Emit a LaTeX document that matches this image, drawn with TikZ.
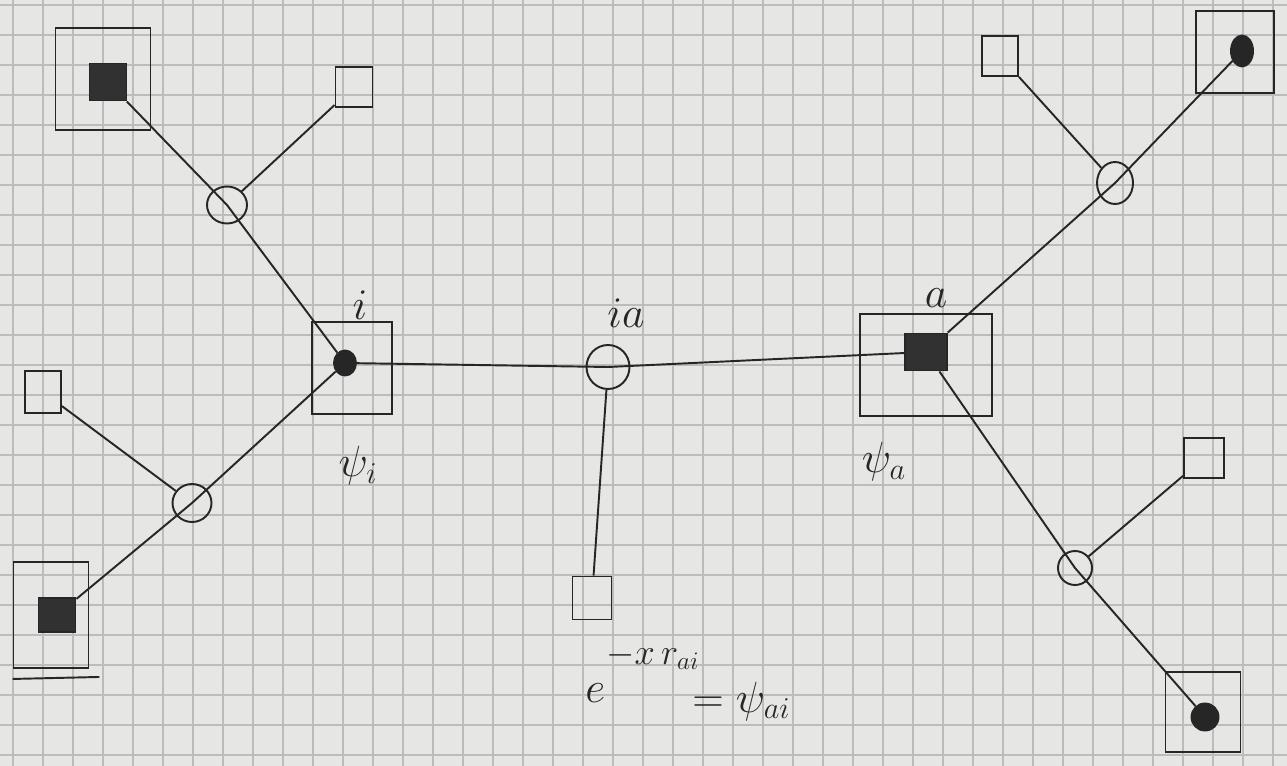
\documentclass[tikz,border=0pt]{standalone}
\usetikzlibrary{shapes.geometric}
\definecolor{paper}{HTML}{E6E6E4}
\definecolor{gridc}{HTML}{BCBCBC}
\definecolor{ink}{HTML}{262626}
\begin{document}
\begin{tikzpicture}[x=0.02cm,y=-0.02cm,
  pen/.style={draw=ink,line width=1.1pt},
  sz/.style 2 args={minimum width=#1*0.02cm,minimum height=#2*0.02cm},
  varnode/.style={pen,ellipse,inner sep=0pt},
  smallbox/.style={pen,rectangle,inner sep=0pt},
  outerbox/.style={pen,rectangle,inner sep=0pt},
  filledbox/.style={pen,rectangle,fill=ink!95,inner sep=0pt},
  dotnode/.style={ellipse,fill=ink,draw=ink,line width=1.1pt,inner sep=0pt},
  lbl/.style={text=ink,inner sep=0pt,font=\fontsize{25}{28}\selectfont},
  fml/.style={text=ink,inner sep=0pt,font=\fontsize{27}{30}\selectfont},
  fmlsup/.style={text=ink,inner sep=0pt,font=\fontsize{22}{25}\selectfont},
  gridline/.style={draw=gridc,line width=0.7pt},
  conn/.style={draw=ink,line width=1.1pt}]
\useasboundingbox (0,0) rectangle (1287,766);
\fill[paper] (0,0) rectangle (1287,766);
\foreach \gx in {13,43,...,1287} \draw[gridline] (\gx,0) -- (\gx,766);
\foreach \gy in {5,35,...,766} \draw[gridline] (0,\gy) -- (1287,\gy);

% left upper branch
\node[outerbox,sz={95}{102}] (tlout) at (103,79) {};
\node[filledbox,sz={37}{37}] (tlin) at (108,82) {};
\node[varnode,sz={40}{37}] (c1) at (227,205) {};
\node[smallbox,sz={37}{40}] (s1) at (354,87) {};

% node i
\node[outerbox,sz={80}{92}] (iout) at (352,368) {};
\node[dotnode,sz={22}{25}] (idot) at (345,363) {};
\node[lbl] (ilab) at (360,305) {$i$};
\node[lbl] (psii) at (358,466) {$\psi_i$};

% left lower branch
\node[varnode,sz={39}{38}] (c2) at (192,503) {};
\node[smallbox,sz={36}{42}] (s2) at (43,392) {};
\node[outerbox,sz={75}{106}] (blout) at (51,615) {};
\node[filledbox,sz={37}{34}] (blin) at (57,615) {};
\draw[pen] ([yshift=-0.2cm]blout.south west) -- ([xshift=0.2cm,yshift=-0.16cm]blout.south east);

% middle factor ia
\node[varnode,sz={43}{44}] (ia) at (608,367) {};
\node[lbl] (ialab) at (626,313) {$ia$};
\node[smallbox,sz={39}{43}] (s3) at (592,598) {};
\node[fml,anchor=base west] (fe) at (585,702) {$e$};
\node[fmlsup,anchor=base west] (fexp) at (606,664) {$-x\,r_{ai}$};
\node[fml,anchor=base west] (feq) at (692,712) {$=\psi_{ai}$};

% node a
\node[outerbox,sz={132}{102}] (aout) at (926,365) {};
\node[filledbox,sz={42}{37}] (ain) at (926,352) {};
\node[lbl] (alab) at (936,298) {$a$};
\node[lbl] (psia) at (884,462) {$\psi_a$};

% right upper branch
\node[varnode,sz={36}{42}] (c3) at (1115,183) {};
\node[outerbox,sz={78}{82}] (trout) at (1235,52) {};
\node[dotnode,sz={22}{31}] (trdot) at (1242,51) {};
\node[smallbox,sz={36}{40}] (s4) at (1000,56) {};

% right lower branch
\node[varnode,sz={34}{34}] (c4) at (1075,568) {};
\node[smallbox,sz={40}{40}] (s5) at (1204,458) {};
\node[outerbox,sz={75}{80}] (brout) at (1203,712) {};
\node[dotnode,sz={27}{27}] (brdot) at (1205,717) {};

% connectors
\draw[conn] (tlin) -- (c1.center) -- (idot);
\draw[conn] (c1) -- (s1);
\draw[conn] (blin) -- (c2.center) -- (idot);
\draw[conn] (c2) -- (s2);
\draw[conn] (idot) -- (ia.center) -- (ain);
\draw[conn] (ia) -- (s3);
\draw[conn] (ain) -- (c3.center) -- (trdot);
\draw[conn] (c3) -- (s4);
\draw[conn] (ain) -- (c4.center) -- (brdot);
\draw[conn] (c4) -- (s5);
\end{tikzpicture}
\end{document}
